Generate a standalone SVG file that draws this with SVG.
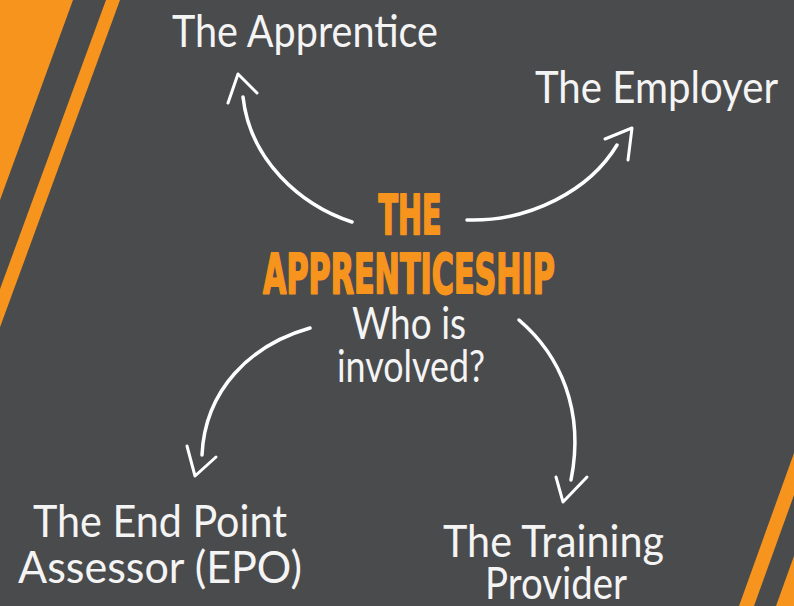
<svg xmlns="http://www.w3.org/2000/svg" width="794" height="606" viewBox="0 0 794 606">
<style>
.bg{fill:#4a4b4d}
.stripe{fill:#f7941d}
.lbl{font-family:"Lato","Open Sans","Liberation Sans",sans-serif;fill:#f4f4f4;font-size:44px;font-weight:400}
.title{font-family:"Liberation Sans Narrow","DejaVu Sans Condensed","Liberation Sans",sans-serif;font-weight:bold;fill:#f7941d;stroke:#f7941d;stroke-width:2;stroke-linejoin:round;font-size:55px}
.arc{fill:none;stroke:#ffffff;stroke-width:3.5;stroke-linecap:round;stroke-linejoin:round}
.head{fill:none;stroke:#ffffff;stroke-width:3;stroke-linecap:round;stroke-linejoin:round}
</style>
<rect class="bg" x="0" y="0" width="794" height="606"/>
<g id="stripes">
<polygon class="stripe" points="0,0 73,0 0,200"/>
<polygon class="stripe" points="106,0 120,0 -1,330 -15,330"/>
<polygon class="stripe" points="739,606 754,606 794,495 794,453"/>
<polygon class="stripe" points="776,606 794,556 794,606"/>
</g>
<g id="center">
<text class="title" x="410" y="234" text-anchor="middle" textLength="63" lengthAdjust="spacingAndGlyphs">THE</text>
<text class="title" x="409" y="293" text-anchor="middle" textLength="292" lengthAdjust="spacingAndGlyphs">APPRENTICESHIP</text>
<text class="lbl" x="409" y="339" text-anchor="middle" textLength="114" lengthAdjust="spacingAndGlyphs" font-size="41">Who is</text>
<text class="lbl" x="411" y="382" text-anchor="middle" textLength="148" lengthAdjust="spacingAndGlyphs" font-size="40">involved?</text>
</g>
<g id="apprentice">
<text class="lbl" x="172" y="47" textLength="266" lengthAdjust="spacingAndGlyphs" font-size="46">The Apprentice</text>
</g>
<g id="employer">
<text class="lbl" x="535" y="103" textLength="243" lengthAdjust="spacingAndGlyphs" font-size="45">The Employer</text>
</g>
<g id="epa">
<text class="lbl" x="33" y="537" textLength="254" lengthAdjust="spacingAndGlyphs" font-size="44">The End Point</text>
<text class="lbl" x="18" y="583" textLength="284" lengthAdjust="spacingAndGlyphs" font-size="40">Assessor (EPO)</text>
</g>
<g id="training">
<text class="lbl" x="443" y="557" textLength="221" lengthAdjust="spacingAndGlyphs" font-size="43">The Training</text>
<text class="lbl" x="485" y="599" textLength="142" lengthAdjust="spacingAndGlyphs" font-size="38">Provider</text>
</g>
<g id="connectors">
<path class="arc" d="M352,222 C300,205 250,160 243,97"/>
<path class="head" d="M228,103 L238,74 L257,93"/>
<path class="arc" d="M467,220 C530,222 590,190 617,145"/>
<path class="head" d="M605,139 L632,128 L628,160"/>
<path class="arc" d="M310,328 C250,345 205,390 202,455"/>
<path class="head" d="M187,446 L195,476 L216,457"/>
<path class="arc" d="M519,320 C560,355 585,410 571,480"/>
<path class="head" d="M556,477 L563,502 L587,477"/>
</g>
</svg>
